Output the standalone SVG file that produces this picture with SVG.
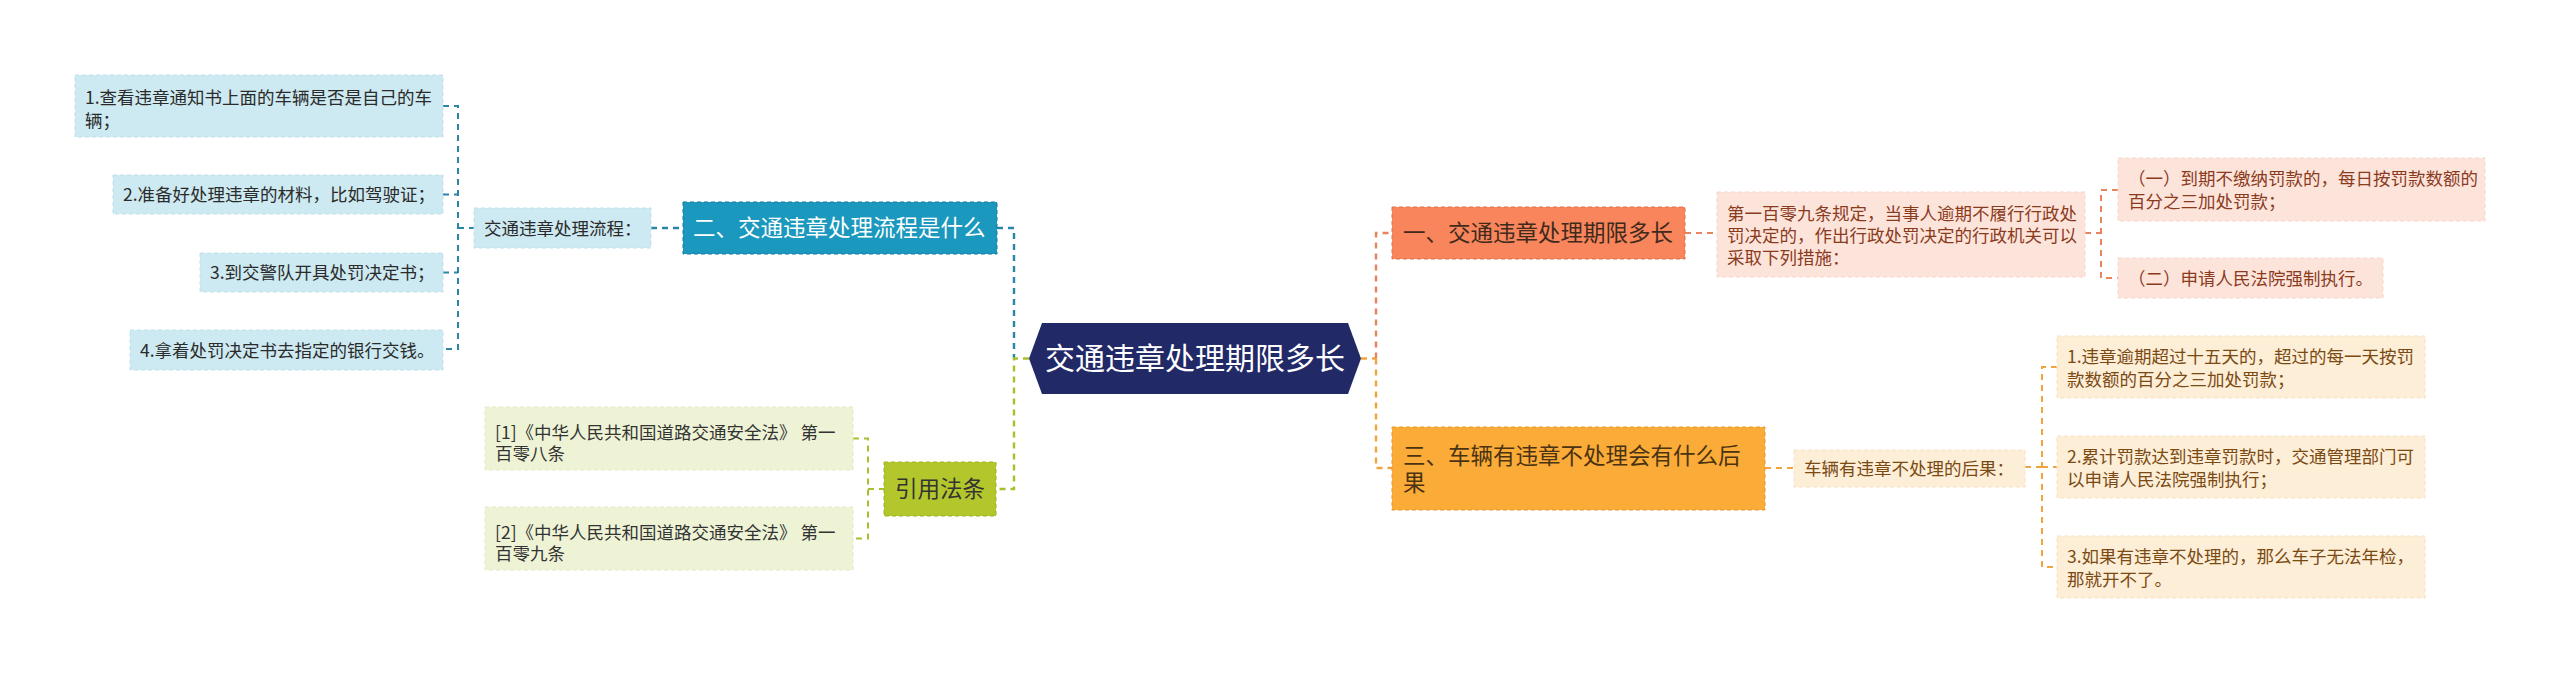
<svg xmlns="http://www.w3.org/2000/svg" width="2560" height="674" viewBox="0 0 2560 674">
<style>
text{font-family:"Noto Sans CJK SC","Noto Sans",sans-serif;}
.s{font-size:17.5px;}
.b{font-size:22.5px;}
.c{fill:none;stroke-width:2;stroke-dasharray:6 5;}
.cm{fill:none;stroke-width:2.4;stroke-dasharray:6 5;}
.blue{stroke:#2a86a5;}
.green{stroke:#a9bf2b;}
.coral{stroke:#e8835f;}
.orange{stroke:#f2a43c;}
.nb{fill:#cde9f1;stroke:#bfe0ec;stroke-width:1;stroke-dasharray:4 3;}
.nbt{fill:#2b2b2b;}
.ng{fill:#eef3d6;stroke:#e3e9c5;stroke-width:1;stroke-dasharray:4 3;}
.ngt{fill:#333;}
.nc{fill:#fde4db;stroke:#f7d6ca;stroke-width:1;stroke-dasharray:4 3;}
.nct{fill:#8b3b1d;}
.no{fill:#fdeed8;stroke:#f7e1c2;stroke-width:1;stroke-dasharray:4 3;}
.not{fill:#7b4a12;}
</style>
<rect width="2560" height="674" fill="#ffffff"/>

<g id="connectors">
  <path class="c blue" d="M443,106 H458 V349 H443 M443,194.5 H458 M443,272.5 H458 M458,228 H474"/>
  <path class="cm blue" d="M651,228 H683"/>
  <path class="cm blue" d="M997,228 H1014 V358.5"/>
  <path class="cm green" d="M1029,358.5 H1014 V489 H996"/>
  <path class="c green" d="M853,438.5 H868 V538.5 H853 M868,489 H884"/>
  <path class="cm orange" d="M1361,358.5 H1376"/>
  <path class="cm coral" d="M1376,358.5 V233 H1392"/>
  <path class="c coral" d="M1685,233 H1717 M2085,233 H2101 M2118,190 H2101 V278 H2118"/>
  <path class="cm orange" d="M1376,358.5 V468 H1392"/>
  <path class="c orange" d="M1765,468 H1794 M2025,467 H2042 M2057,367 H2042 V567 H2057 M2042,467 H2057"/>
</g>

<g id="center">
  <polygon points="1029,358.5 1042,323 1348,323 1361,358.5 1348,394 1042,394" fill="#212967"/>
  <text x="1195" y="369" font-size="30" fill="#ffffff" text-anchor="middle">交通违章处理期限多长</text>
</g>

<g id="branch2">
  <rect x="683" y="202" width="314" height="52" fill="#1b98bd" stroke="#147d9c" stroke-width="1" stroke-dasharray="4 3"/>
  <text class="b" x="693" y="236" fill="#ffffff">二、交通违章处理流程是什么</text>
</g>
<g id="flow">
  <rect class="nb" x="474" y="208" width="177" height="40"/>
  <text class="s nbt" x="484" y="234.5">交通违章处理流程：</text>
</g>
<g id="step1">
  <rect class="nb" x="75" y="75" width="368" height="62"/>
  <text class="s nbt" x="85" y="103.5">1.查看违章通知书上面的车辆是否是自己的车</text>
  <text class="s nbt" x="85" y="126.5">辆；</text>
</g>
<g id="step2">
  <rect class="nb" x="113" y="175" width="330" height="39"/>
  <text class="s nbt" x="123" y="201">2.准备好处理违章的材料，比如驾驶证；</text>
</g>
<g id="step3">
  <rect class="nb" x="200" y="253" width="243" height="39"/>
  <text class="s nbt" x="210" y="279">3.到交警队开具处罚决定书；</text>
</g>
<g id="step4">
  <rect class="nb" x="130" y="330" width="313" height="40"/>
  <text class="s nbt" x="140" y="356.5">4.拿着处罚决定书去指定的银行交钱。</text>
</g>

<g id="laws">
  <rect x="884" y="462" width="112" height="54" fill="#b3c72c" stroke="#9fb21f" stroke-width="1" stroke-dasharray="4 3"/>
  <text class="b" x="940" y="497" fill="#333333" text-anchor="middle">引用法条</text>
</g>
<g id="law1">
  <rect class="ng" x="485" y="407" width="368" height="63"/>
  <text class="s ngt" x="495" y="439">[1]《中华人民共和国道路交通安全法》 第一</text>
  <text class="s ngt" x="495" y="460">百零八条</text>
</g>
<g id="law2">
  <rect class="ng" x="485" y="507" width="368" height="63"/>
  <text class="s ngt" x="495" y="539">[2]《中华人民共和国道路交通安全法》 第一</text>
  <text class="s ngt" x="495" y="560">百零九条</text>
</g>

<g id="branch1">
  <rect x="1392" y="207" width="293" height="52" fill="#f8855b" stroke="#e0704a" stroke-width="1" stroke-dasharray="4 3"/>
  <text class="b" x="1403" y="241" fill="#3f2a1c">一、交通违章处理期限多长</text>
</g>
<g id="art109">
  <rect class="nc" x="1717" y="192" width="368" height="85"/>
  <text class="s nct" x="1727" y="219.5">第一百零九条规定，当事人逾期不履行行政处</text>
  <text class="s nct" x="1727" y="241.5">罚决定的，作出行政处罚决定的行政机关可以</text>
  <text class="s nct" x="1727" y="263.5">采取下列措施：</text>
</g>
<g id="measure1">
  <rect class="nc" x="2118" y="158" width="367" height="63"/>
  <text class="s nct" x="2128" y="184.5">（一）到期不缴纳罚款的，每日按罚款数额的</text>
  <text class="s nct" x="2128" y="207.5">百分之三加处罚款；</text>
</g>
<g id="measure2">
  <rect class="nc" x="2118" y="258" width="265" height="40"/>
  <text class="s nct" x="2128" y="284.5">（二）申请人民法院强制执行。</text>
</g>

<g id="branch3">
  <rect x="1392" y="427" width="373" height="83" fill="#fbab38" stroke="#e8952a" stroke-width="1" stroke-dasharray="4 3"/>
  <text class="b" x="1403" y="464" fill="#4a3312">三、车辆有违章不处理会有什么后</text>
  <text class="b" x="1403" y="491" fill="#4a3312">果</text>
</g>
<g id="consequence">
  <rect class="no" x="1794" y="450" width="231" height="37"/>
  <text class="s not" x="1804" y="475">车辆有违章不处理的后果：</text>
</g>
<g id="cons1">
  <rect class="no" x="2057" y="336" width="368" height="62"/>
  <text class="s not" x="2067" y="363">1.违章逾期超过十五天的，超过的每一天按罚</text>
  <text class="s not" x="2067" y="386">款数额的百分之三加处罚款；</text>
</g>
<g id="cons2">
  <rect class="no" x="2057" y="436" width="368" height="62"/>
  <text class="s not" x="2067" y="463">2.累计罚款达到违章罚款时，交通管理部门可</text>
  <text class="s not" x="2067" y="486">以申请人民法院强制执行；</text>
</g>
<g id="cons3">
  <rect class="no" x="2057" y="536" width="368" height="62"/>
  <text class="s not" x="2067" y="563">3.如果有违章不处理的，那么车子无法年检，</text>
  <text class="s not" x="2067" y="586">那就开不了。</text>
</g>
</svg>
